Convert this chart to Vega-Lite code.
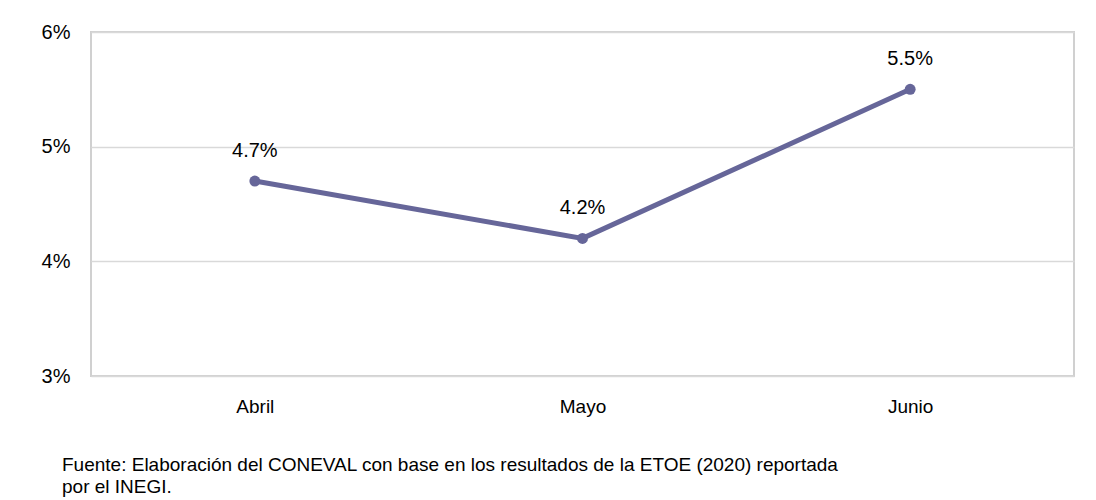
{
  "$schema": "https://vega.github.io/schema/vega-lite/v6.json",
  "autosize": {"type": "none"},
  "width": 983,
  "height": 344,
  "padding": {"left": 91, "top": 32, "right": 22, "bottom": 124},
  "background": "white",
  "data": {"values": [
    {"mes": "Abril", "valor": 0.047},
    {"mes": "Mayo", "valor": 0.042},
    {"mes": "Junio", "valor": 0.055}
  ]},
  "title": {
    "text": ["Fuente: Elaboración del CONEVAL con base en los resultados de la ETOE (2020) reportada", "por el INEGI."],
    "orient": "bottom",
    "anchor": "start",
    "frame": "group",
    "dx": -29,
    "offset": 40,
    "baseline": "top",
    "font": "Liberation Sans",
    "fontSize": 19,
    "fontWeight": "normal",
    "color": "#000000",
    "lineHeight": 22
  },
  "encoding": {
    "x": {
      "field": "mes", "type": "ordinal", "sort": null,
      "scale": {"type": "point", "padding": 0.5},
      "axis": {"title": null, "labelAngle": 0, "ticks": false, "domain": false, "grid": false,
               "labelFont": "Liberation Sans", "labelFontSize": 19, "labelColor": "#000000", "labelPadding": 21}
    },
    "y": {
      "field": "valor", "type": "quantitative",
      "scale": {"domain": [0.03, 0.06], "nice": false, "zero": false},
      "axis": {"title": null, "format": ".0%", "values": [0.03, 0.04, 0.05, 0.06], "ticks": false, "domain": false,
               "gridColor": "#d9d9d9", "gridWidth": 1.5,
               "labelFont": "Liberation Sans", "labelFontSize": 20, "labelColor": "#000000", "labelPadding": 21}
    }
  },
  "layer": [
    {"mark": {"type": "line", "color": "#666699", "strokeWidth": 5, "point": {"filled": true, "size": 120, "color": "#666699"}}},
    {"mark": {"type": "text", "dy": -30, "font": "Liberation Sans", "fontSize": 20, "color": "#000000"},
     "encoding": {"text": {"field": "valor", "type": "quantitative", "format": ".1%"}}}
  ],
  "config": {"view": {"stroke": "#d0d0d0", "strokeWidth": 2}}
}
